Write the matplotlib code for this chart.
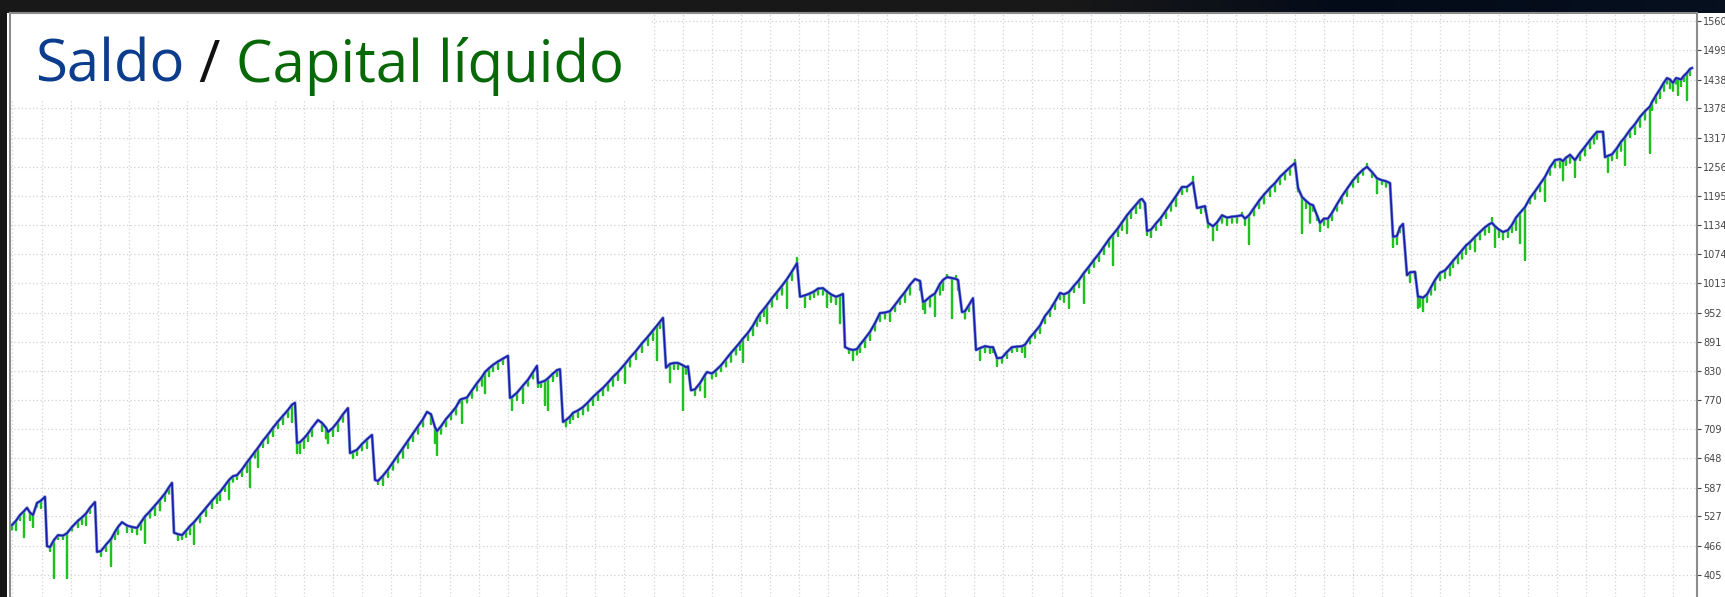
"""Saldo / Capital líquido - curva de saldo e capital de um relatório de backtest."""
import numpy as np
import matplotlib
matplotlib.use("Agg")
import matplotlib.pyplot as plt
from matplotlib.patches import Rectangle
from matplotlib.colors import LinearSegmentedColormap

# número do negócio (eixo x sem rótulos)
deals = [
    12, 16, 20, 24, 27, 30, 33, 37, 41, 45, 47, 50, 54, 58, 63, 67, 72, 78, 82, 86,
    90, 95, 97, 101, 106, 111, 115, 118, 122, 127, 132, 137, 141, 145, 150, 155, 160, 165, 169, 172,
    174, 178, 182, 186, 190, 194, 200, 206, 212, 217, 220, 225, 229, 233, 237, 242, 247, 250, 255, 258,
    263, 268, 273, 278, 283, 288, 292, 295, 297,
    300, 304, 308, 312, 318, 322, 326, 328, 333, 338, 343, 348, 350, 353, 357, 362, 367, 372, 375, 378,
    383, 388, 393, 398, 403, 408, 413, 418, 423, 427, 431, 435, 437, 441, 446, 451, 456, 460, 462, 467,
    472, 477, 482, 485, 489, 493, 498, 503, 508, 510, 512, 517, 523, 528, 533, 537, 538, 541, 545, 548,
    553, 557, 560, 563,
    566, 570, 573, 578, 583, 588, 593, 598, 603, 608, 613, 618, 625, 630, 636, 642, 648, 653, 657, 660,
    663, 666, 670, 674, 678, 683, 686, 688, 691, 695, 700, 705, 707, 712, 716, 721, 726, 731, 736, 740,
    743, 748, 753, 757, 760, 764, 767, 772, 777, 782, 787, 792, 797, 800, 805, 810, 814, 818, 823, 827,
    831, 836, 840, 843, 845, 849, 853, 857,
    860, 865, 870, 875, 880, 885, 890, 895, 900, 905, 910, 915, 920, 923, 925, 930, 935, 940, 943, 947,
    952, 956, 958, 962, 965, 969, 973, 976, 980, 985, 990, 993, 997, 1002, 1007, 1012, 1017, 1022, 1025, 1030,
    1035, 1040, 1045, 1050, 1055, 1060, 1064, 1069, 1074, 1079, 1084, 1089, 1094, 1099, 1104, 1109, 1113, 1118, 1122, 1127,
    1131, 1136, 1140,
    1142, 1145, 1147, 1151, 1156, 1161, 1166, 1171, 1176, 1182, 1187, 1193, 1197, 1201, 1205, 1208, 1213, 1217, 1222, 1227,
    1232, 1237, 1242, 1245, 1249, 1254, 1259, 1264, 1270, 1275, 1280, 1285, 1290, 1295, 1298, 1302, 1306, 1310, 1313, 1317,
    1320, 1324, 1328, 1332, 1337, 1342, 1347, 1353, 1358, 1363, 1367, 1372, 1377, 1382, 1386, 1390, 1393, 1397, 1400, 1403,
    1407, 1410, 1415, 1418,
    1420, 1423, 1427, 1431, 1435, 1440, 1445, 1450, 1453, 1458, 1462, 1466, 1470, 1475, 1480, 1485, 1489, 1492, 1495, 1499,
    1503, 1508, 1512, 1516, 1520, 1525, 1530, 1535, 1540, 1545, 1550, 1555, 1560, 1563, 1566, 1570, 1575, 1580, 1585, 1590,
    1594, 1597, 1603, 1605, 1608, 1612, 1617, 1621, 1625, 1630, 1635, 1640, 1645, 1650, 1652, 1656, 1660, 1664, 1667, 1670,
    1673, 1676, 1678, 1681, 1684, 1687, 1690, 1692,
]

# saldo (linha azul)
saldo = [
    509, 518, 530, 538, 545, 535, 530, 555, 560, 568, 465, 463, 478, 488, 487, 492, 505, 518, 525, 533,
    545, 557, 453, 455, 468, 480, 495, 505, 515, 508, 505, 503, 515, 527, 538, 550, 562, 575, 588, 597,
    493, 490, 488, 497, 507, 515, 530, 545, 560, 572, 578, 592, 603, 611, 613, 625, 640, 648, 662, 670,
    685, 698, 712, 725, 737, 749, 760, 764, 680,
    682, 690, 700, 712, 728, 722, 712, 703, 712, 725, 740, 753, 659, 662, 666, 678, 688, 697, 603, 601,
    612, 625, 640, 655, 670, 685, 700, 715, 730, 745, 740, 713, 705, 715, 730, 742, 755, 770, 772, 775,
    790, 805, 818, 828, 836, 843, 850, 856, 862, 774, 776, 785, 800, 812, 828, 841, 805, 807, 810, 815,
    825, 832, 834, 724,
    728, 735, 743, 748, 755, 765, 776, 786, 795, 806, 818, 828, 845, 858, 872, 888, 902, 915, 925, 933,
    941, 837, 845, 847, 847, 842, 838, 840, 790, 792, 805, 822, 828, 825, 832, 842, 855, 868, 880, 890,
    898, 910, 925, 940, 950, 960, 968, 982, 995, 1008, 1022, 1038, 1055, 985, 988, 992, 996, 1002, 1003, 996,
    990, 985, 988, 991, 880, 876, 874, 876,
    885, 898, 912, 930, 951, 952, 955, 968, 982, 995, 1010, 1022, 1018, 974, 976, 985, 992, 1012, 1020, 1026,
    1024, 1022, 1020, 953, 955, 968, 982, 874, 878, 882, 880, 880, 857, 858, 870, 880, 881, 882, 885, 900,
    912, 925, 945, 958, 975, 993, 990, 995, 1008, 1020, 1035, 1048, 1062, 1075, 1090, 1105, 1115, 1128, 1140, 1155,
    1165, 1177, 1187,
    1189, 1180, 1122, 1125, 1138, 1150, 1165, 1180, 1195, 1214, 1214, 1224, 1170, 1172, 1174, 1139, 1132, 1140, 1155, 1150,
    1152, 1153, 1155, 1148, 1155, 1170, 1185, 1198, 1212, 1222, 1235, 1245, 1255, 1264, 1212, 1193, 1185, 1178, 1176, 1155,
    1139, 1148, 1148, 1160, 1178, 1195, 1210, 1228, 1240, 1250, 1256, 1245, 1232, 1228, 1226, 1222, 1110, 1112, 1130, 1137,
    1030, 1036, 1037, 985,
    985, 983, 990, 1005, 1020, 1035, 1040, 1052, 1060, 1072, 1082, 1092, 1099, 1110, 1120, 1130, 1136, 1139, 1132, 1125,
    1120, 1124, 1135, 1150, 1160, 1172, 1191, 1205, 1220, 1235, 1255, 1270, 1272, 1268, 1275, 1281, 1270, 1285, 1298, 1312,
    1322, 1329, 1329, 1276, 1279, 1282, 1295, 1308, 1318, 1333, 1345, 1360, 1372, 1382, 1391, 1405, 1418, 1432, 1441, 1438,
    1431, 1441, 1440, 1438, 1446, 1452, 1460, 1462,
]

# capital líquido: valor extremo em cada negócio (linha verde)
capital = [
    500, 499, 520, 484, 545, 520, 505, 548, 545, 568, 465, 455, 399, 480, 480, 399, 498, 505, 512, 509,
    535, 557, 453, 445, 455, 424, 480, 490, 515, 495, 495, 490, 500, 472, 525, 530, 540, 560, 575, 597,
    493, 478, 480, 485, 490, 470, 515, 528, 545, 555, 561, 580, 563, 600, 605, 612, 620, 588, 650, 630,
    672, 680, 695, 712, 720, 735, 724, 764, 659,
    659, 670, 685, 695, 728, 705, 690, 680, 695, 705, 725, 753, 659, 649, 655, 665, 670, 697, 603, 595,
    593, 610, 625, 640, 650, 670, 685, 700, 715, 745, 720, 680, 655, 700, 715, 730, 740, 765, 722, 765,
    775, 790, 800, 784, 820, 830, 835, 845, 862, 774, 749, 770, 764, 800, 815, 841, 797, 797, 760, 749,
    810, 820, 834, 724,
    715, 722, 730, 735, 740, 748, 760, 770, 780, 790, 800, 812, 805, 840, 855, 870, 885, 895, 853, 920,
    941, 837, 807, 835, 835, 749, 825, 840, 790, 780, 790, 776, 828, 815, 820, 830, 840, 850, 865, 875,
    849, 895, 905, 925, 935, 945, 930, 965, 980, 990, 962, 1020, 1066, 985, 964, 980, 985, 990, 990, 964,
    975, 970, 930, 991, 880, 868, 853, 865,
    870, 880, 895, 915, 935, 940, 935, 955, 970, 975, 990, 1022, 1000, 960, 951, 965, 945, 990, 1000, 1030,
    941, 1028, 1000, 953, 940, 955, 982, 874, 853, 870, 868, 870, 841, 848, 858, 870, 872, 870, 860, 888,
    900, 910, 930, 945, 960, 980, 975, 962, 995, 1005, 972, 1035, 1048, 1060, 1075, 1090, 1051, 1112, 1125, 1118,
    1150, 1160, 1170,
    1189, 1165, 1114, 1110, 1125, 1135, 1150, 1165, 1175, 1200, 1205, 1235, 1170, 1160, 1165, 1130, 1103, 1125, 1140, 1135,
    1140, 1140, 1160, 1135, 1095, 1155, 1170, 1180, 1195, 1205, 1220, 1230, 1240, 1270, 1205, 1118, 1170, 1140, 1165, 1145,
    1122, 1135, 1130, 1145, 1165, 1180, 1195, 1215, 1225, 1240, 1262, 1235, 1201, 1220, 1215, 1218, 1089, 1095, 1120, 1137,
    1030, 1016, 1025, 962,
    965, 955, 975, 990, 1000, 1020, 1025, 1030, 1047, 1055, 1065, 1075, 1085, 1080, 1105, 1115, 1120, 1149, 1089, 1110,
    1105, 1110, 1120, 1125, 1097, 1062, 1180, 1190, 1205, 1185, 1240, 1255, 1255, 1228, 1260, 1265, 1235, 1270, 1280, 1295,
    1305, 1315, 1320, 1276, 1245, 1270, 1275, 1290, 1260, 1318, 1325, 1340, 1355, 1285, 1375, 1390, 1400, 1415, 1430, 1420,
    1415, 1430, 1406, 1425, 1435, 1395, 1448, 1462,
]

ytick_labels = ["1560", "1499", "1438", "1378", "1317", "1256", "1195", "1134", "1074", "1013",
                "952", "891", "830", "770", "709", "648", "587", "527", "466", "405"]

W, H = 1725, 597
fig = plt.figure(figsize=(W / 100, H / 100), dpi=100)
fig.patch.set_facecolor("#161616")

# faixa escura no topo (degradê para azul-escuro à direita)
top = fig.add_axes([0, 1 - 13 / H, 1, 13 / H])
top.axis("off")
cmap = LinearSegmentedColormap.from_list(
    "topo", [(0, "#181818"), (0.62, "#181818"), (0.78, "#040b18"), (1, "#06101f")])
top.imshow(np.linspace(0, 1, 256)[None, :], aspect="auto", cmap=cmap)

# painel branco do gráfico (inclui a área dos rótulos à direita)
fig.add_artist(Rectangle((7 / W, 0), 1 - 7 / W, 1 - 13 / H, transform=fig.transFigure,
                         facecolor="white", edgecolor="none", zorder=0))

ax = fig.add_axes([10 / W, 0, 1687 / W, 1 - 13 / H])
ax.set_facecolor("white")
ax.set_xlim(10, 1697)
ax.set_ylim(359, 1576.7)

x = np.asarray(deals, dtype=float)
s = np.asarray(saldo, dtype=float)
c = np.asarray(capital, dtype=float)

# capital: a cada negócio, vai do saldo ao extremo e volta
cx = np.repeat(x, 3)
cy = np.column_stack([s, c, s]).ravel()
ax.plot(cx, cy, color="#21c021", lw=1.6, zorder=3)
ax.plot(x, s, color="#7676ee", lw=2.3, zorder=4, alpha=0.7)
ax.plot(x, s, color="#1c1cb0", lw=1.2, zorder=5)

# grade pontilhada
ax.set_xticks(np.arange(12.5, 1697, 29.14))
ax.tick_params(axis="x", length=0, labelbottom=False)
ax.yaxis.tick_right()
ax.set_yticks([float(v) for v in ytick_labels])
ax.set_yticklabels(ytick_labels)
ax.tick_params(axis="y", length=3, width=0.8, colors="#444444", labelsize=7, pad=1.5)
ax.grid(True, color="#d2d2d2", linestyle=(0, (1, 2)), linewidth=0.9)
ax.set_axisbelow(True)

for side in ("top", "right", "left"):
    ax.spines[side].set_color("#8c8c8c")
    ax.spines[side].set_linewidth(1.5)
ax.spines["bottom"].set_visible(False)

# caixa branca atrás do título
ax.add_patch(Rectangle((0, 1 - 87 / 584), 640 / 1687, 87 / 584, transform=ax.transAxes,
                       facecolor="white", edgecolor="none", zorder=2))

# título em três cores
parts = [("Saldo", "#0b3d8c"), (" / ", "#111111"), ("Capital líquido", "#066806")]
renderer = fig.canvas.get_renderer()


def draw_title(fs):
    texts = []
    xpos = 35 / W
    for txt, col in parts:
        t = fig.text(xpos, 1 - 82 / H, txt, color=col, fontsize=fs,
                     family=["Open Sans", "DejaVu Sans"], va="baseline", ha="left", zorder=10)
        bb = t.get_window_extent(renderer)
        xpos = bb.x1 / W
        texts.append(t)
    return texts, xpos * W - 35


texts, width = draw_title(40)
for t in texts:
    t.remove()
draw_title(40 * 587 / width)

fig.savefig("out.png", dpi=100, facecolor=fig.get_facecolor())
